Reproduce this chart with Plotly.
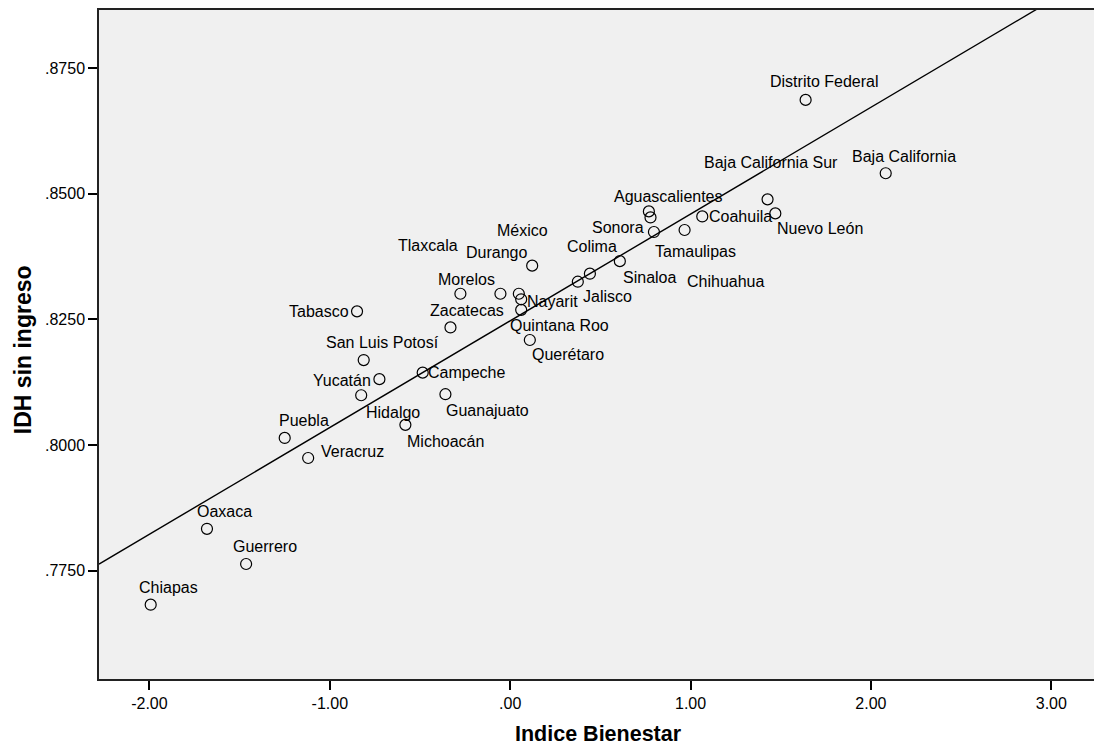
import numpy as np
import plotly.graph_objects as go

# ---- data ----
states = [
    "Distrito Federal", "Baja California", "Baja California Sur", "Nuevo León",
    "Coahuila", "Aguascalientes", "Chihuahua", "Sonora", "Tamaulipas", "Sinaloa",
    "Colima", "Jalisco", "México", "Durango", "Tlaxcala", "Nayarit",
    "Quintana Roo", "Querétaro", "Morelos", "Tabasco", "Zacatecas",
    "San Luis Potosí", "Campeche", "Yucatán", "Hidalgo", "Guanajuato",
    "Michoacán", "Puebla", "Veracruz", "Oaxaca", "Guerrero", "Chiapas",
]
indice_bienestar = [
    1.638, 2.082, 1.427, 1.470,
    1.065, 0.769, 0.778, 0.797, 0.967, 0.608,
    0.442, 0.375, 0.122, 0.048, -0.054, 0.061,
    0.061, 0.109, -0.276, -0.849, -0.331,
    -0.812, -0.485, -0.725, -0.826, -0.359,
    -0.581, -1.250, -1.120, -1.681, -1.464, -1.993,
]
idh_sin_ingreso = [
    0.8687, 0.8541, 0.8489, 0.8461,
    0.8455, 0.8465, 0.8453, 0.8424, 0.8428, 0.8366,
    0.8341, 0.8325, 0.8357, 0.8301, 0.8301, 0.8290,
    0.8269, 0.8209, 0.8301, 0.8266, 0.8234,
    0.8169, 0.8144, 0.8131, 0.8099, 0.8101,
    0.8040, 0.8014, 0.7974, 0.7833, 0.7763, 0.7682,
]
x_tickvals = [-2, -1, 0, 1, 2, 3]
x_ticktext = ["-2.00", "-1.00", ".00", "1.00", "2.00", "3.00"]
y_tickvals = [0.775, 0.800, 0.825, 0.850, 0.875]
y_ticktext = [".7750", ".8000", ".8250", ".8500", ".8750"]

# ---- style: label pixel offsets (dx, dy screen) ----
label_offsets = {
    "Distrito Federal": (18, -18), "Baja California": (18, -17),
    "Baja California Sur": (3, -37), "Nuevo León": (45, 15),
    "Coahuila": (38, 0), "Aguascalientes": (20, -15), "Chihuahua": (75, 64),
    "Sonora": (-36, -5), "Tamaulipas": (11, 22), "Sinaloa": (30, 16),
    "Colima": (2, -27), "Jalisco": (30, 15), "México": (-10, -35),
    "Durango": (-22, -41), "Tlaxcala": (-72, -48), "Nayarit": (31, 2),
    "Quintana Roo": (38, 16), "Querétaro": (38, 15), "Morelos": (6, -14),
    "Tabasco": (-38, 0), "Zacatecas": (17, -17), "San Luis Potosí": (19, -18),
    "Campeche": (44, 0), "Yucatán": (-37, 1), "Hidalgo": (32, 17),
    "Guanajuato": (42, 16), "Michoacán": (40, 17), "Puebla": (19, -17),
    "Veracruz": (44, -7), "Oaxaca": (18, -17), "Guerrero": (19, -17),
    "Chiapas": (18, -17),
}

FONT = "Liberation Sans, Arial, sans-serif"
x_range = [-2.2796, 3.2368]
y_range = [0.7534, 0.8866]

# linear fit line
slope, intercept = np.polyfit(indice_bienestar, idh_sin_ingreso, 1)
fit_x = np.array(x_range)
fit_y = intercept + slope * fit_x

fig = go.Figure()
fig.add_trace(go.Scatter(
    x=fit_x, y=fit_y, mode="lines",
    line=dict(color="black", width=1.4), hoverinfo="skip", showlegend=False,
))
fig.add_trace(go.Scatter(
    x=indice_bienestar, y=idh_sin_ingreso, mode="markers",
    marker=dict(symbol="circle-open", size=11, color="black",
                line=dict(color="black", width=1.2)),
    text=states, showlegend=False,
))

for name, xv, yv in zip(states, indice_bienestar, idh_sin_ingreso):
    dx, dy = label_offsets[name]
    fig.add_annotation(
        x=xv, y=yv, xref="x", yref="y", text=name, showarrow=False,
        xanchor="center", yanchor="middle", xshift=dx, yshift=-dy,
        font=dict(family=FONT, size=16, color="black"),
    )

fig.add_annotation(
    x=-0.0764, y=0.493, xref="paper", yref="paper", text="<b>IDH sin ingreso</b>",
    textangle=-90, showarrow=False, xanchor="center", yanchor="middle",
    font=dict(family=FONT, size=23, color="black"),
)
fig.add_annotation(
    x=0.5025, y=-0.0825, xref="paper", yref="paper", text="<b>Indice Bienestar</b>",
    showarrow=False, xanchor="center", yanchor="middle",
    font=dict(family=FONT, size=21.5, color="black"),
)

fig.update_layout(
    width=1094, height=747,
    margin=dict(l=99, r=0, t=10, b=68),
    paper_bgcolor="white", plot_bgcolor="#F0F0F0",
    font=dict(family=FONT, size=16, color="black"),
)
fig.update_xaxes(
    range=x_range, tickvals=x_tickvals, ticktext=x_ticktext,
    showgrid=False, zeroline=False, showline=True, linecolor="#222222",
    linewidth=1.5, mirror=True, ticks="outside", ticklen=9, tickwidth=1.5,
    tickcolor="black", tickfont=dict(family=FONT, size=16),
)
fig.update_yaxes(
    range=y_range, tickvals=y_tickvals, ticktext=y_ticktext,
    showgrid=False, zeroline=False, showline=True, linecolor="#222222",
    linewidth=1.5, ticks="outside", ticklen=9, tickwidth=1.5,
    tickcolor="black", tickfont=dict(family=FONT, size=16),
)

fig.write_html(
    "out.html",
    config={"displayModeBar": False},
    post_script="document.body.style.margin='0';document.body.style.overflow='hidden';",
)
